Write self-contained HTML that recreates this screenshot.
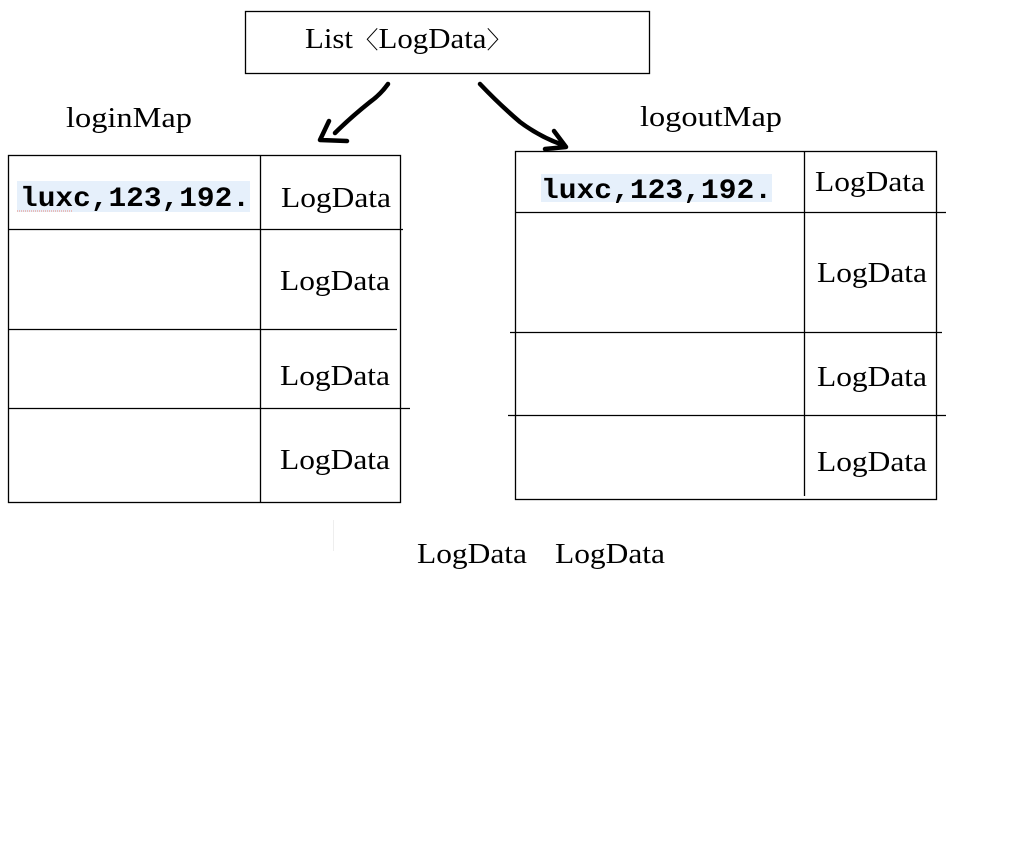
<!DOCTYPE html>
<html><head><meta charset="utf-8"><style>
html,body{margin:0;padding:0;background:#fff;width:1024px;height:846px;overflow:hidden}
svg{display:block}
.s{font-family:"Liberation Serif","Noto Serif CJK SC",serif;font-size:29px;fill:#000}
.m{font-family:"Liberation Mono",monospace;font-size:28px;font-weight:bold;fill:#000}
</style></head><body>
<svg width="1024" height="846" viewBox="0 0 1024 846" xmlns="http://www.w3.org/2000/svg">
<g stroke="#000" stroke-width="1.3" fill="none">
<rect x="245.5" y="11.5" width="404" height="62"/>
<rect x="8.5" y="155.5" width="392" height="347"/>
<line x1="260.5" y1="155" x2="260.5" y2="502"/>
<line x1="8" y1="229.5" x2="403" y2="229.5"/>
<line x1="8" y1="329.5" x2="397" y2="329.5"/>
<line x1="8" y1="408.5" x2="410" y2="408.5"/>
<rect x="515.5" y="151.5" width="421" height="348"/>
<line x1="804.5" y1="151" x2="804.5" y2="496"/>
<line x1="515" y1="212.5" x2="946" y2="212.5"/>
<line x1="510" y1="332.5" x2="942" y2="332.5"/>
<line x1="508" y1="415.5" x2="946" y2="415.5"/>
</g>
<line x1="333.5" y1="520" x2="333.5" y2="551" stroke="#eee" stroke-width="1"/>
<g stroke="#000" stroke-width="4.5" fill="none" stroke-linecap="round" stroke-linejoin="round">
<path d="M388,84 Q380,95 370,102 Q350,118 335,133"/>
<path d="M329,121 L320,140 L347,141"/>
<path d="M480,84 Q500,105 520,122 Q540,137 563,145"/>
<path d="M554,131 L566,147 L545,149"/>
</g>
<rect x="17" y="181" width="233" height="31" fill="#e6f0fb"/>
<rect x="541" y="174" width="231" height="28" fill="#e6f0fb"/>
<line x1="17" y1="211" x2="72" y2="211" stroke="#e87" stroke-width="1" stroke-dasharray="1,1"/>
<text class="s" x="305" y="48" textLength="207" lengthAdjust="spacingAndGlyphs">List<tspan font-size="24">〈</tspan>LogData<tspan font-size="24">〉</tspan></text>
<text class="s" x="66" y="127" textLength="126" lengthAdjust="spacingAndGlyphs">loginMap</text>
<text class="s" x="640" y="126" textLength="142" lengthAdjust="spacingAndGlyphs">logoutMap</text>
<text class="m" x="20" y="206" textLength="230" lengthAdjust="spacingAndGlyphs">luxc,123,192.</text>
<text class="m" x="541" y="198" textLength="231" lengthAdjust="spacingAndGlyphs">luxc,123,192.</text>
<text class="s" x="281" y="207" textLength="110" lengthAdjust="spacingAndGlyphs">LogData</text>
<text class="s" x="280" y="290" textLength="110" lengthAdjust="spacingAndGlyphs">LogData</text>
<text class="s" x="280" y="385" textLength="110" lengthAdjust="spacingAndGlyphs">LogData</text>
<text class="s" x="280" y="469" textLength="110" lengthAdjust="spacingAndGlyphs">LogData</text>
<text class="s" x="815" y="191" textLength="110" lengthAdjust="spacingAndGlyphs">LogData</text>
<text class="s" x="817" y="282" textLength="110" lengthAdjust="spacingAndGlyphs">LogData</text>
<text class="s" x="817" y="386" textLength="110" lengthAdjust="spacingAndGlyphs">LogData</text>
<text class="s" x="817" y="471" textLength="110" lengthAdjust="spacingAndGlyphs">LogData</text>
<text class="s" x="417" y="563" textLength="110" lengthAdjust="spacingAndGlyphs">LogData</text>
<text class="s" x="555" y="563" textLength="110" lengthAdjust="spacingAndGlyphs">LogData</text>
</svg>
</body></html>
